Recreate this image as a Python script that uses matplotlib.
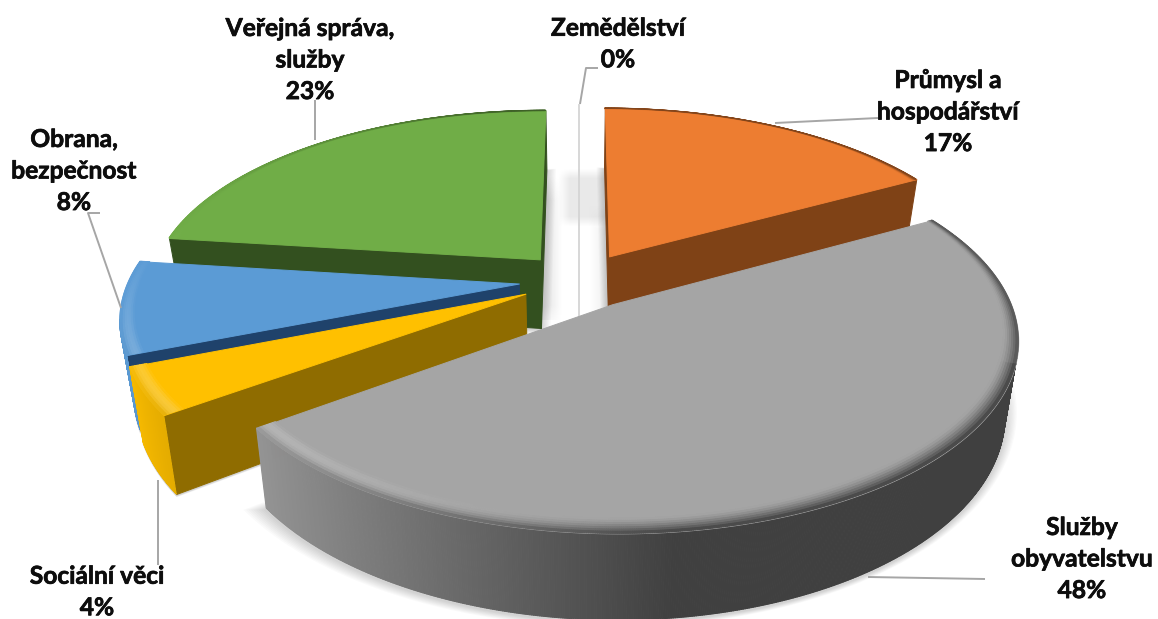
import numpy as np
import matplotlib
matplotlib.use("Agg")
import matplotlib.pyplot as plt
import matplotlib.patheffects as pe
from matplotlib.collections import PolyCollection
from matplotlib.colors import to_rgb

# ---- data
names = ["Zemědělství", "Průmysl a\nhospodářství", "Služby\nobyvatelstvu",
         "Sociální věci", "Obrana,\nbezpečnost", "Veřejná správa,\nslužby"]
values = [0, 17, 48, 4, 8, 23]
top_colors = ["#D4D4D4", "#ED7D31", "#A5A5A5", "#FFC000", "#5B9BD5", "#70AD47"]
cut_colors = ["#D4D4D4", "#7F4216", "#6E6E6E", "#8F6C00", "#1F426B", "#33501F"]

# label placement (pixels)
label_x = [618, 948, 1082, 97, 74, 310]
label_y = [44, 112, 559, 592, 171, 60]
leaders = [[(598, 68), (586, 68), (580, 104)],
           [(878, 118), (775, 123)],
           [(985, 579), (868, 577)],
           [(158, 565), (158, 480)],
           [(100, 213), (88, 213), (121, 308)],
           [(315, 100), (315, 140)]]

# ---- projection
CX, CY, SX, SY, K, H, C = 579, 280, 390, 181, 0.17, 70, 0.03
EXPLODE = 0.155
RIM = 0.05
CAM = np.array([0.0, -6.0])


def project(x, y, d=0.0):
    """x, y on the unit pie plane; d = 0 top face, 1 bottom face."""
    w = 1 + K * np.asarray(y)
    sx = CX + SX * np.asarray(x) / w * (1 - C * d)
    sy = CY - SY * np.asarray(y) / w + H * d / w
    return np.column_stack([sx, sy])


def mix(a, b, t):
    a, b = np.array(a), np.array(b)
    return tuple(np.clip(a + (b - a) * t, 0, 1))


def wall_shade(theta):
    return np.clip(0.45 - 0.55 * np.sin(theta), 0.39, 1.0)


def faces_camera(px, py, nx, ny):
    return nx * (CAM[0] - px) + ny * (CAM[1] - py) > 0


def smooth_box(v, lo, hi, soft):
    return np.clip((v - lo) / soft, 0, 1) * np.clip((hi - v) / soft, 0, 1)


fig = plt.figure(figsize=(11.58, 6.19), dpi=100)
ax = fig.add_axes([0, 0, 1, 1])

fracs = np.array(values) / sum(values)
edges = np.concatenate([[0], np.cumsum(fracs)]) * 2 * np.pi
mids = (edges[:-1] + edges[1:]) / 2
order = np.argsort(-np.cos(mids))


def polys(p, color, z=1):
    ax.add_collection(PolyCollection(p, facecolors=color, edgecolors=color,
                                     linewidths=0.7, zorder=z))


def soft(xy, z, color="#000000", n=9, spread=14, alpha=0.02):
    c = xy.mean(axis=0)
    for i in range(n):
        s = 1 + (i + 1) / n * spread / 300
        ax.fill(c[0] + (xy[:, 0] - c[0]) * s, c[1] + (xy[:, 1] - c[1]) * s + 2,
                color=color, alpha=alpha, lw=0, zorder=z)


# soft shadow in the central gap
gx, gy = np.meshgrid(np.arange(540, 612), np.arange(160, 320))
shade_a = (0.09 * smooth_box(gx, 558, 625, 12) * smooth_box(gy, 168, 226, 10)
           + 0.09 * np.clip((562 - gx) / 14, 0, 1) * smooth_box(gy, 175, 330, 25)
           + 0.07 * np.clip((gx - 588) / 18, 0, 1) * smooth_box(gy, 205, 330, 25))
rgba = np.zeros(gx.shape + (4,))
rgba[..., 3] = np.clip(shade_a, 0, 0.16)
ax.imshow(rgba, extent=(540, 612, 320, 160), aspect="auto", zorder=0.2,
          interpolation="bilinear")
ax.set_xlim(0, 1158)
ax.set_ylim(619, 0)
ax.axis("off")

zo = 1
for i in order:
    a0, a1 = edges[i], edges[i + 1]
    ex, ey = EXPLODE * np.sin(mids[i]), EXPLODE * np.cos(mids[i])
    top = to_rgb(top_colors[i])
    cut = to_rgb(cut_colors[i])
    if values[i] == 0:
        a = project([ex, ex], [1 + ey, ey], 0)
        b = project([ex], [ey], 1)
        ax.plot([a[0, 0], a[1, 0], b[0, 0]], [a[0, 1], a[1, 1], b[0, 1]],
                color=top_colors[i], lw=1.3, zorder=zo)
        zo += 1
        continue
    th = np.linspace(a0, a1, max(int((a1 - a0) * 220), 16))
    x, y = np.sin(th) + ex, np.cos(th) + ey
    # outer soft shadow
    bottom = project(np.r_[ex, x], np.r_[ey, y], 1)
    soft(bottom, zo)
    zo += 1
    # cut faces (only those that face the camera)
    for ang, sgn in ((a0, -1), (a1, 1)):
        nx, ny = sgn * np.cos(ang), -sgn * np.sin(ang)
        if faces_camera(ex + 0.5 * np.sin(ang), ey + 0.5 * np.cos(ang), nx, ny):
            q = project([ex, ex + np.sin(ang)], [ey, ey + np.cos(ang)], 0)
            r = project([ex, ex + np.sin(ang)], [ey, ey + np.cos(ang)], 1)
            polys([np.vstack([q, r[::-1]])], [cut], zo)
    zo += 1
    # outer wall
    t_pts = project(x, y, 0)
    b_pts = project(x, y, 1)
    quads, cols = [], []
    for j in range(len(th) - 1):
        m = (th[j] + th[j + 1]) / 2
        if faces_camera(np.sin(m) + ex, np.cos(m) + ey, np.sin(m), np.cos(m)):
            quads.append(np.array([t_pts[j], t_pts[j + 1], b_pts[j + 1], b_pts[j]]))
            cols.append(mix((0, 0, 0), top, wall_shade(m)))
    if quads:
        polys(quads, cols, zo)
    zo += 1
    # top face
    polys([project(np.r_[ex, x], np.r_[ey, y], 0)], [top], zo)
    zo += 1
    # bevelled rim: thin on the far side, wide on the near side
    wf = np.clip(0.6 - 0.6 * np.cos(th), 0.12, 1.1)
    levels = np.linspace(0, 1, 8)
    quads, cols = [], []
    for s0, s1 in zip(levels[:-1], levels[1:]):
        t = (s0 + s1) / 2
        r0 = 1 - RIM * wf * (1 - s0)
        r1 = 1 - RIM * wf * (1 - s1)
        p0 = project(r0 * np.sin(th) + ex, r0 * np.cos(th) + ey, 0)
        p1 = project(r1 * np.sin(th) + ex, r1 * np.cos(th) + ey, 0)
        for j in range(len(th) - 1):
            m = (th[j] + th[j + 1]) / 2
            edge_shade = wall_shade(m) if np.cos(m) < -0.3 else max(wall_shade(m), 0.5)
            base = mix(top, mix((0, 0, 0), top, edge_shade), t ** 1.5)
            hl = max(0.0, -np.sin(m)) * max(0.0, 0.2 - np.cos(m)) * np.sin(np.pi * t) * 0.35
            quads.append(np.array([p0[j], p0[j + 1], p1[j + 1], p1[j]]))
            cols.append(mix(base, (1, 1, 1), hl))
    polys(quads, cols, zo)
    zo += 1

# ---- labels and leader lines
for i, name in enumerate(names):
    pts = np.array(leaders[i])
    ax.plot(pts[:, 0], pts[:, 1], color="#A6A6A6", lw=1.4, zorder=zo,
            solid_capstyle="butt")
    ax.text(label_x[i], label_y[i], f"{name}\n{values[i]}%", ha="center",
            va="center", family="Lato", fontweight="bold", fontsize=17.7,
            color="#0D0D0D", linespacing=1.45, zorder=zo + 1,
            path_effects=[pe.withStroke(linewidth=0.5, foreground="#0D0D0D")])

fig.savefig("out.png", dpi=100)
